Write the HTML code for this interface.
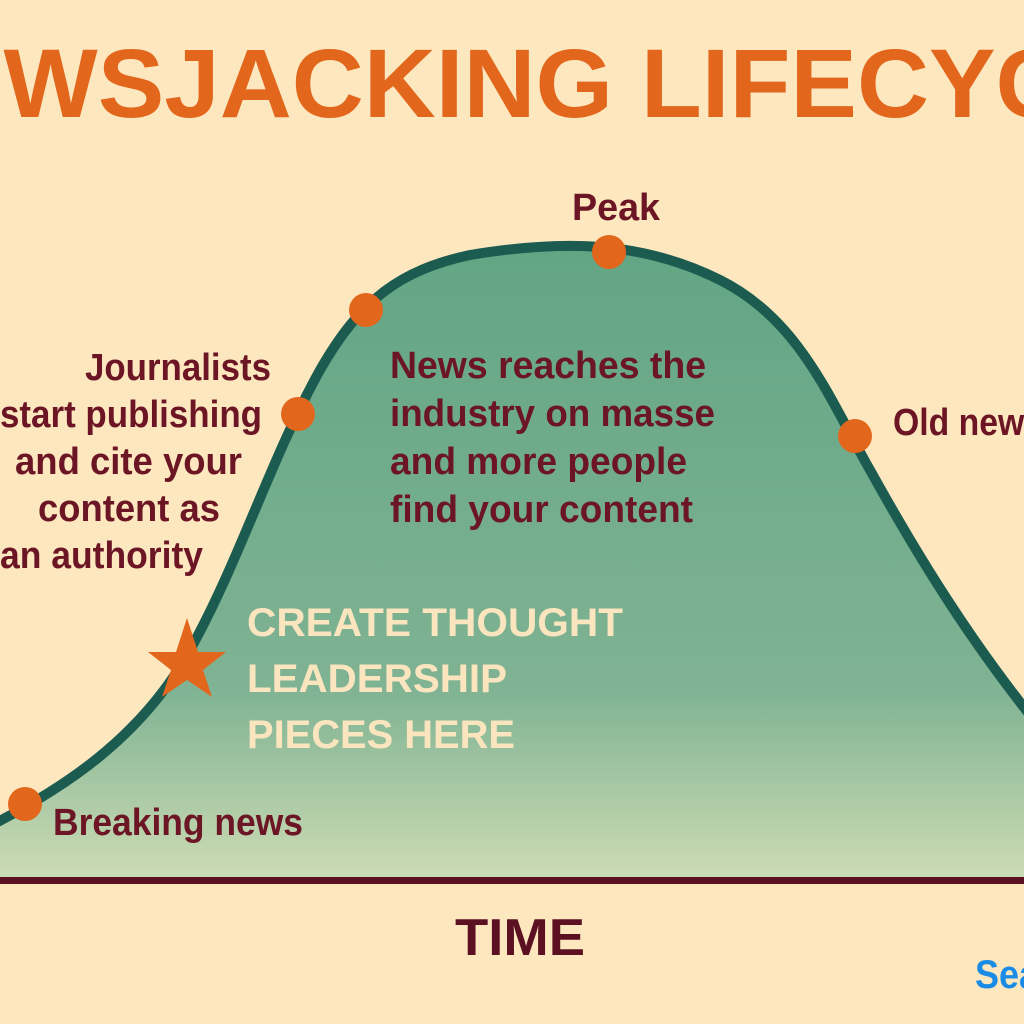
<!DOCTYPE html>
<html><head><meta charset="utf-8"><style>
html,body{margin:0;padding:0;background:#fde7bf;}
svg{display:block}
text{font-family:"Liberation Sans",sans-serif;}
</style></head><body>
<svg width="1024" height="1024" viewBox="0 0 1024 1024" xmlns="http://www.w3.org/2000/svg">
<defs>
<linearGradient id="g" x1="0" y1="0" x2="0" y2="1">
<stop offset="0" stop-color="#62a585"/>
<stop offset="0.7" stop-color="#7fb393"/>
<stop offset="1" stop-color="#cddcb4"/>
</linearGradient>
</defs>
<rect width="1024" height="1024" fill="#fde7bf"/>
<text x="-135" y="117" font-size="97" font-weight="bold" fill="#e2661c" textLength="1330" lengthAdjust="spacingAndGlyphs">NEWSJACKING LIFECYCLE</text>
<path d="M-10,826 C60,790 140,740 190,650 C240,560 270,460 320,370 C360,300 400,270 470,255 C560,240 640,240 720,280 C800,320 830,400 870,470 C920,560 970,640 1034,720 L1034,880 L-10,880 Z" fill="url(#g)"/>
<path d="M-10,826 C60,790 140,740 190,650 C240,560 270,460 320,370 C360,300 400,270 470,255 C560,240 640,240 720,280 C800,320 830,400 870,470 C920,560 970,640 1034,720" fill="none" stroke="#1c5b50" stroke-width="10"/>
<rect x="0" y="877" width="1024" height="7" fill="#5c1122"/>
<g fill="#e2661c">
<circle cx="25" cy="804" r="17"/>
<circle cx="298" cy="414" r="17"/>
<circle cx="366" cy="310" r="17"/>
<circle cx="609" cy="252" r="17"/>
<circle cx="855" cy="436" r="17"/>
<polygon points="187,618 198,652 226,652 203,670 212,697 187,680 162,697 171,670 148,652 176,652"/>
</g>
<g fill="#6b1525" font-size="38" font-weight="bold">
<text x="572" y="220" textLength="88" lengthAdjust="spacingAndGlyphs">Peak</text>
<text x="85" y="380" textLength="186" lengthAdjust="spacingAndGlyphs">Journalists</text>
<text x="0" y="427" textLength="262" lengthAdjust="spacingAndGlyphs">start publishing</text>
<text x="15" y="474" textLength="227" lengthAdjust="spacingAndGlyphs">and cite your</text>
<text x="38" y="521" textLength="182" lengthAdjust="spacingAndGlyphs">content as</text>
<text x="0" y="568" textLength="203" lengthAdjust="spacingAndGlyphs">an authority</text>
<text x="390" y="378" textLength="316" lengthAdjust="spacingAndGlyphs">News reaches the</text>
<text x="390" y="426" textLength="325" lengthAdjust="spacingAndGlyphs">industry on masse</text>
<text x="390" y="474" textLength="297" lengthAdjust="spacingAndGlyphs">and more people</text>
<text x="390" y="522" textLength="303" lengthAdjust="spacingAndGlyphs">find your content</text>
<text x="893" y="435" textLength="150" lengthAdjust="spacingAndGlyphs">Old news</text>
<text x="53" y="835" textLength="250" lengthAdjust="spacingAndGlyphs">Breaking news</text>
</g>
<g fill="#fbe5bf" font-size="40" font-weight="bold">
<text x="247" y="636" textLength="376" lengthAdjust="spacingAndGlyphs">CREATE THOUGHT</text>
<text x="247" y="692" textLength="260" lengthAdjust="spacingAndGlyphs">LEADERSHIP</text>
<text x="247" y="748" textLength="268" lengthAdjust="spacingAndGlyphs">PIECES HERE</text>
</g>
<text x="455" y="955" font-size="52" font-weight="bold" fill="#5c1122" textLength="130" lengthAdjust="spacingAndGlyphs">TIME</text>
<text x="975" y="988" font-size="40" font-weight="bold" fill="#1a8ce6" textLength="120" lengthAdjust="spacingAndGlyphs">Search</text>
</svg>
</body></html>
